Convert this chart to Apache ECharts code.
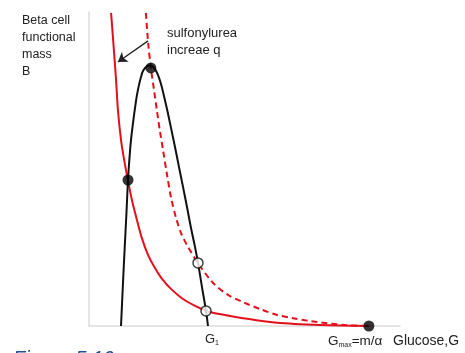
<!DOCTYPE html>
<html>
<head>
<meta charset="utf-8">
<script src="https://cdn.jsdelivr.net/npm/echarts@6/dist/echarts.min.js"></script>
<style>html,body{margin:0;padding:0;background:#fff;}#c{width:465px;height:353px;}</style>
</head>
<body>
<div id="c"></div>
<script>
// Data in axis units (x: glucose 0..10, y: beta cell mass 0..10)
const redSolid = [[0.71,9.97],[0.80,8.79],[0.87,7.83],[0.93,6.88],[1.03,5.92],[1.13,5.29],[1.25,4.65],[1.38,4.01],[1.54,3.38],[1.70,2.80],[1.90,2.26],[2.12,1.85],[2.38,1.46],[2.67,1.15],[3.02,0.86],[3.41,0.64],[3.76,0.48],[4.37,0.35],[4.95,0.25],[6.05,0.10],[7.43,0.03],[9.0,0]];
const redDashed = [[1.83,9.97],[1.90,9.04],[1.99,8.22],[2.09,7.52],[2.19,6.82],[2.28,6.21],[2.38,5.61],[2.51,4.81],[2.64,4.08],[2.80,3.44],[2.96,2.96],[3.15,2.58],[3.50,2.01],[3.99,1.37],[4.47,0.99],[4.95,0.76],[5.50,0.54],[6.05,0.35],[6.56,0.25],[7.11,0.16],[8.23,0.03],[9.0,0]];
const blackCurve = [[1.029,0],[1.125,2.04],[1.206,3.63],[1.254,4.65],[1.302,5.35],[1.350,5.92],[1.415,6.46],[1.479,6.94],[1.543,7.36],[1.608,7.68],[1.672,7.93],[1.736,8.12],[1.833,8.25],[1.929,8.30],[2.026,8.28],[2.122,8.18],[2.219,7.99],[2.315,7.71],[2.412,7.32],[2.508,6.91],[2.637,6.31],[2.765,5.70],[2.894,5.06],[3.023,4.43],[3.151,3.79],[3.280,3.12],[3.408,2.52],[3.505,2.01],[3.633,1.24],[3.762,0.48],[3.826,0]];
const filledDots = [[1.254,4.65],[1.99,8.22],[9.0,0]];
const openDots = [[3.505,2.01],[3.762,0.48]];
const arrowFrom = [1.90,9.08];
const arrowTo = [0.93,8.41];

const RED = '#e3101c';
const FONT = 'Liberation Sans, Arial, sans-serif';
const chart = echarts.init(document.getElementById('c'));
chart.setOption({
  animation: false,
  grid: {left: 89, right: 65, top: 12, bottom: 27},
  xAxis: {type: 'value', min: 0, max: 10, axisLine: {show: true, lineStyle: {color: '#dddddd', width: 1.5}}, axisTick: {show: false}, axisLabel: {show: false}, splitLine: {show: false}},
  yAxis: {type: 'value', min: 0, max: 10, axisLine: {show: true, lineStyle: {color: '#dddddd', width: 1.5}}, axisTick: {show: false}, axisLabel: {show: false}, splitLine: {show: false}},
  series: [
    {type: 'line', data: redSolid, smooth: 0.3, symbol: 'none', lineStyle: {color: RED, width: 2}, z: 2},
    {type: 'line', data: redDashed, smooth: 0.3, symbol: 'none', lineStyle: {color: RED, width: 2, type: [6, 4]}, z: 2,
      markLine: {silent: true, symbol: ['none', 'arrow'], symbolSize: 9, label: {show: false},
        lineStyle: {color: '#222', width: 1.3, type: 'solid'},
        data: [[{coord: arrowFrom}, {coord: arrowTo}]]}},
    {type: 'line', data: blackCurve, smooth: 0.4, symbol: 'none', lineStyle: {color: '#111', width: 2}, z: 3},
    {type: 'scatter', data: filledDots, symbolSize: 11, itemStyle: {color: '#000'}, z: 5},
    {type: 'scatter', data: openDots, symbolSize: 10, itemStyle: {color: '#fff', borderColor: '#111', borderWidth: 1.5}, z: 5}
  ],
  graphic: [
    {type: 'text', left: 22, top: 12, style: {text: 'Beta cell\nfunctional\nmass\nB', font: '12.5px ' + FONT, fill: '#222', lineHeight: 17}},
    {type: 'text', left: 167, top: 25, style: {text: 'sulfonylurea\nincreae q', font: '13px ' + FONT, fill: '#222', lineHeight: 17}},
    {type: 'text', left: 205, top: 333, style: {rich: {a: {font: '13px ' + FONT, fill: '#222'}, s: {font: '7px ' + FONT, fill: '#222', padding: [8, 0, 0, 0]}}, text: '{a|G}{s|1}'}},
    {type: 'text', left: 328, top: 334, style: {rich: {a: {font: '13.5px ' + FONT, fill: '#222'}, s: {font: '7px ' + FONT, fill: '#222', padding: [9, 0, 0, 0]}}, text: '{a|G}{s|max}{a|=m/α}'}},
    {type: 'text', left: 393, top: 334, style: {text: 'Glucose,G', font: '14px ' + FONT, fill: '#222'}},
    {type: 'text', left: 13, top: 349, style: {text: 'Figure 5.10', font: 'italic 20px ' + FONT, fill: '#1f4f91'}}
  ]
});
</script>
</body>
</html>
